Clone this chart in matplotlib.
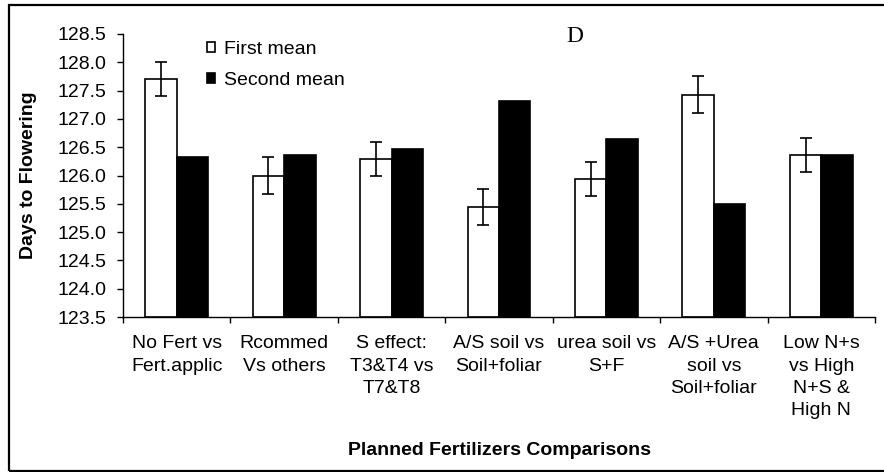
import numpy as np
import matplotlib
matplotlib.use("Agg")
import matplotlib.pyplot as plt
from matplotlib.patches import Rectangle

# valores
categorias = ["No Fert vs\nFert.applic", "Rcommed\nVs others", "S effect:\nT3&T4 vs\nT7&T8",
              "A/S soil vs\nSoil+foliar", "urea soil vs\nS+F", "A/S +Urea\nsoil vs\nSoil+foliar",
              "Low N+s\nvs High\nN+S &\nHigh N"]
primera = [127.70, 126.00, 126.29, 125.45, 125.93, 127.43, 126.37]
segunda = [126.32, 126.37, 126.46, 127.32, 126.64, 125.50, 126.37]
error_primera = [0.30, 0.32, 0.30, 0.32, 0.30, 0.32, 0.30]
yticks = [123.5, 124.0, 124.5, 125.0, 125.5, 126.0, 126.5, 127.0, 127.5, 128.0, 128.5]

plt.rcParams['font.family'] = ['Liberation Sans', 'DejaVu Sans']

W, H = 884, 472
fig = plt.figure(figsize=(W / 100, H / 100), dpi=100)

# marco exterior (el borde derecho queda fuera de la imagen)
fig.patches.append(Rectangle((9 / W, 1 / H), 1.0, 466 / H, transform=fig.transFigure,
                             fill=False, edgecolor='black', linewidth=1.6, clip_on=False))

ax = fig.add_axes([123 / W, (H - 317) / H, 752 / W, 283 / H])

x = np.arange(len(categorias)) + 0.5
ancho = 0.293
b1 = ax.bar(x - ancho / 2, np.array(primera) - 123.5, ancho, bottom=123.5, color='white',
            edgecolor='black', linewidth=1.2, label='First mean', zorder=2)
b2 = ax.bar(x + ancho / 2, np.array(segunda) - 123.5, ancho, bottom=123.5, color='black',
            edgecolor='black', linewidth=1.2, label='Second mean', zorder=2)
ax.errorbar(x - ancho / 2, primera, yerr=error_primera, fmt='none', ecolor='black',
            elinewidth=1.2, capsize=4.5, capthick=1.2, zorder=3)

ax.set_xlim(0, len(categorias))
ax.set_ylim(123.5, 128.5)
ax.set_yticks(yticks)
ax.set_yticklabels([f"{v:.1f}" for v in yticks])
ax.set_xticks(np.arange(len(categorias) + 1))
ax.set_xticklabels([])
ax.set_xticks(x, minor=True)
ax.set_xticklabels(categorias, minor=True, linespacing=1.42, va='top')
ax.tick_params(axis='x', which='major', direction='out', length=4, width=1)
ax.tick_params(axis='x', which='minor', length=0, pad=13, labelsize=14)
ax.tick_params(axis='y', direction='out', length=4, width=1, labelsize=14, pad=8)

for s in ['top', 'right']:
    ax.spines[s].set_visible(False)
ax.spines['left'].set_linewidth(1.0)
ax.spines['bottom'].set_linewidth(1.0)

ax.set_ylabel('Days to Flowering', fontsize=14, fontweight='bold')
ax.yaxis.set_label_coords((37 - 123) / 752, 0.5)
ax.set_xlabel('Planned Fertilizers Comparisons', fontsize=14, fontweight='bold')
ax.xaxis.set_label_coords(0.5, (317 - 442) / 283)

ax.text((575 - 123) / 752, (317 - 36) / 283, 'D', transform=ax.transAxes, ha='center',
        va='center', fontsize=17, family='Liberation Serif')

ax.legend(handles=[b1, b2], loc='upper left', bbox_to_anchor=((207 - 123) / 752, (317 - 41) / 283),
          frameon=False, fontsize=14, handlelength=0.42, handleheight=0.42, handletextpad=0.45,
          labelspacing=0.72, borderaxespad=0, borderpad=0)

fig.savefig('out.png', dpi=100)
